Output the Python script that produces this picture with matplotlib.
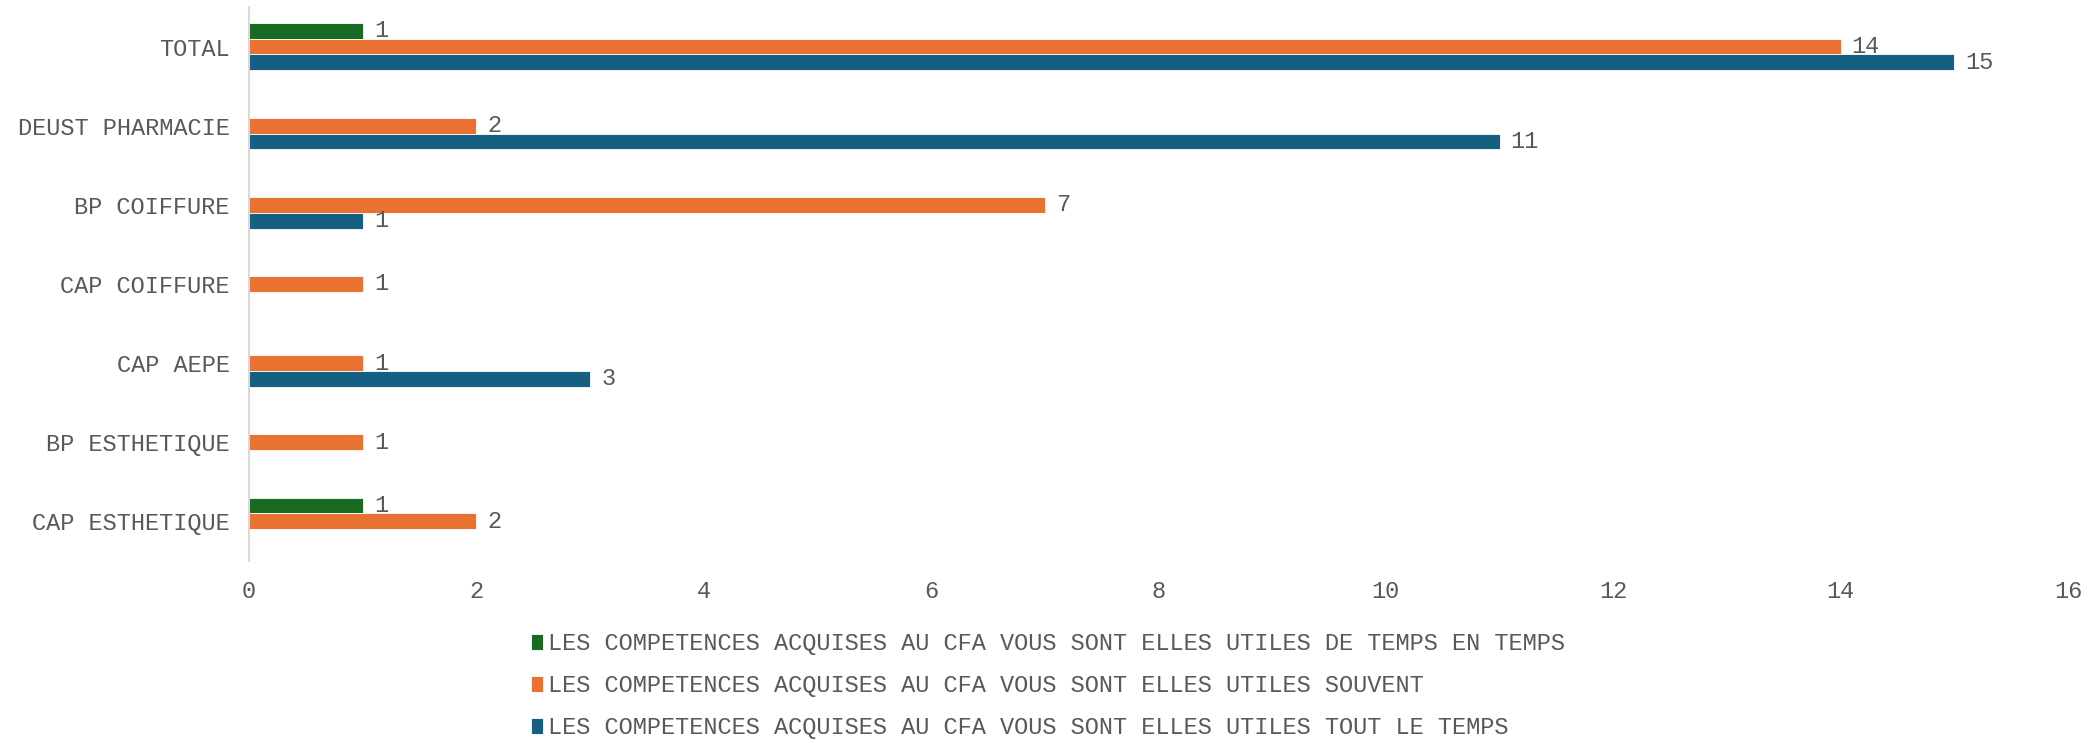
import matplotlib
matplotlib.use("Agg")
import matplotlib.pyplot as plt
import numpy as np

# Data (categories listed bottom to top, as drawn)
categories = ["CAP ESTHETIQUE", "BP ESTHETIQUE", "CAP AEPE", "CAP COIFFURE",
              "BP COIFFURE", "DEUST PHARMACIE", "TOTAL"]
de_temps_en_temps = [1, 0, 0, 0, 0, 0, 1]
souvent = [2, 1, 1, 1, 7, 2, 14]
tout_le_temps = [0, 0, 3, 0, 1, 11, 15]
series_names = [
    "LES COMPETENCES ACQUISES AU CFA VOUS SONT ELLES UTILES DE TEMPS EN TEMPS",
    "LES COMPETENCES ACQUISES AU CFA VOUS SONT ELLES UTILES SOUVENT",
    "LES COMPETENCES ACQUISES AU CFA VOUS SONT ELLES UTILES TOUT LE TEMPS",
]
xticks = [0, 2, 4, 6, 8, 10, 12, 14, 16]

colors = ["#196B24", "#E97132", "#156082"]
text_color = "#595959"
plt.rcParams["font.family"] = ["Liberation Mono", "DejaVu Sans Mono"]
plt.rcParams["font.size"] = 17

fig = plt.figure(figsize=(20.96, 7.43), dpi=100)
ax = fig.add_axes([0.1188, 0.245, 0.8678, 0.7456])

y = np.arange(len(categories))
h = 0.2
offsets = [h, 0, -h]
all_series = [de_temps_en_temps, souvent, tout_le_temps]

handles = []
for vals, off, col, name in zip(all_series, offsets, colors, series_names):
    vals = np.array(vals, dtype=float)
    bars = ax.barh(y + off, vals, height=h, color=col, label=name,
                   edgecolor="white", linewidth=0.6)
    handles.append(bars)
    labels = [str(int(v)) if v > 0 else "" for v in vals]
    ax.bar_label(bars, labels=labels, padding=8, color=text_color, fontsize=17)

ax.set_xlim(0, 16)
ax.set_ylim(-0.5, len(categories) - 0.5)
ax.set_xticks(xticks)
ax.set_yticks(y)
ax.set_yticklabels(categories)
ax.tick_params(axis="both", length=0, colors=text_color, labelsize=17)
ax.tick_params(axis="x", pad=14)
ax.tick_params(axis="y", pad=14)

for side in ["top", "right", "bottom"]:
    ax.spines[side].set_visible(False)
ax.spines["left"].set_color("#D9D9D9")
ax.spines["left"].set_linewidth(1.5)

fig.legend(handles=handles, loc="center", bbox_to_anchor=(0.5, 0.077),
           ncol=1, frameon=False, handlelength=0.5, handleheight=0.7,
           handletextpad=0.2, labelspacing=0.8, labelcolor=text_color,
           fontsize=17)

fig.savefig("out.png", dpi=100, facecolor="white")
